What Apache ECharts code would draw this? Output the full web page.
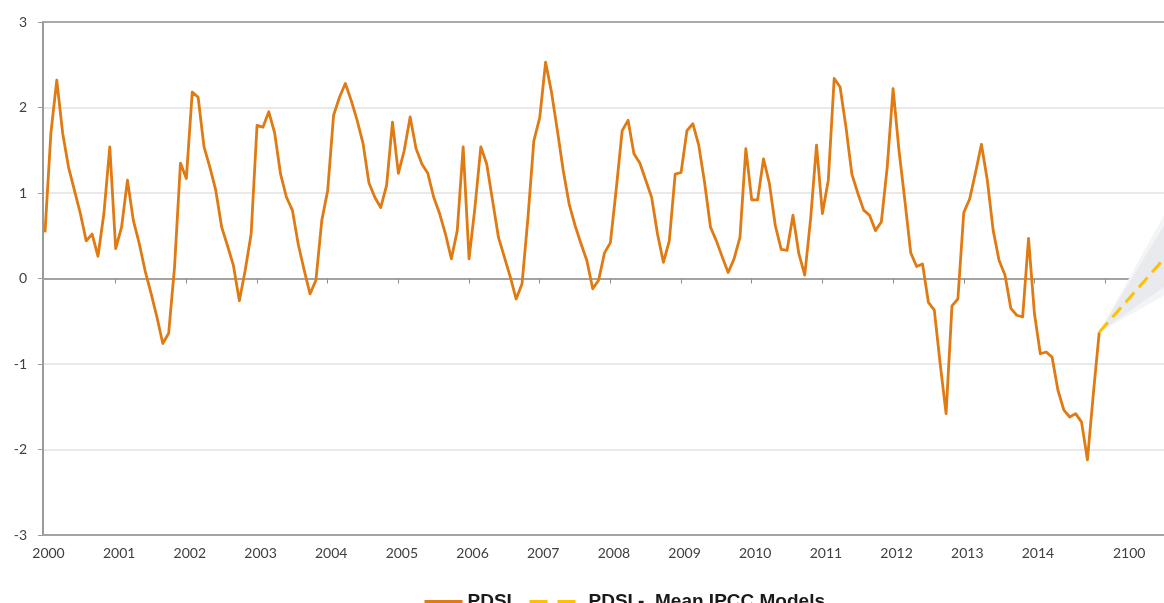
<!DOCTYPE html>
<html><head><meta charset="utf-8">
<script src="https://cdn.jsdelivr.net/npm/echarts@6/dist/echarts.min.js"></script>
<style>html,body{margin:0;padding:0;background:#fff}#c{width:1164px;height:603px}</style>
</head><body><div id="c"></div>
<script>
// Monthly PDSI, Jan 2000 .. Dec 2014 (index = month number from Jan 2000)
const pdsiValues = [
 0.54,1.70,2.32,1.70,1.30,1.03,0.76,0.44,0.52,0.26,0.76,1.54,
 0.35,0.60,1.15,0.68,0.41,0.09,-0.17,-0.45,-0.76,-0.64,0.14,1.35,
 1.17,2.18,2.12,1.54,1.30,1.03,0.60,0.38,0.15,-0.26,0.10,0.52,
 1.79,1.77,1.95,1.70,1.22,0.95,0.80,0.40,0.10,-0.18,-0.02,0.68,
 1.03,1.91,2.12,2.28,2.08,1.85,1.58,1.12,0.95,0.83,1.09,1.83,
 1.23,1.50,1.89,1.52,1.34,1.23,0.95,0.76,0.52,0.23,0.56,1.54,
 0.23,0.83,1.54,1.34,0.91,0.48,0.25,0.02,-0.24,-0.06,0.71,1.61,
 1.88,2.53,2.18,1.73,1.26,0.87,0.62,0.41,0.21,-0.12,-0.02,0.30,
 0.42,1.05,1.73,1.85,1.46,1.35,1.15,0.95,0.52,0.19,0.44,1.22,
 1.24,1.73,1.81,1.56,1.12,0.60,0.44,0.25,0.07,0.23,0.48,1.52,
 0.92,0.92,1.40,1.11,0.62,0.34,0.33,0.74,0.29,0.04,0.70,1.56,
 0.76,1.15,2.34,2.24,1.77,1.22,1.00,0.80,0.74,0.56,0.66,1.30,
 2.22,1.50,0.91,0.30,0.14,0.17,-0.28,-0.37,-1.00,-1.58,-0.32,-0.24,
 0.77,0.93,1.24,1.57,1.15,0.56,0.21,0.04,-0.35,-0.43,-0.45,0.47,
 -0.41,-0.88,-0.86,-0.92,-1.31,-1.54,-1.62,-1.58,-1.68,-2.12,-1.35,-0.63
];
const yearLabels = ['2000','2001','2002','2003','2004','2005','2006','2007','2008','2009','2010','2011','2012','2013','2014','2100'];
const yearLabelMonths = [0,12,24,36,48,60,72,84,96,108,120,132,144,156,168,183.5];
const yearTickMonths = [12,24,36,48,60,72,84,96,108,120,132,144,156,168,180];
// Mean IPCC model projection (dashed) and its spread band
const projMonths = [179, 190];
const projValues = [-0.63, 0.23];
const bandInnerLow = [-0.63, -0.10];
const bandInnerHigh = [-0.63, 0.62];
const bandOuterLow = [-0.63, -0.20];
const bandOuterHigh = [-0.63, 0.74];
const yTicks = [-3,-2,-1,0,1,2,3];

const pdsiData = pdsiValues.map((v,i)=>[i,v]);
const projData = projMonths.map((m,i)=>[m,projValues[i]]);

function bandSeries(low, high, fill, z){
  return {
    type:'custom', silent:true, z:z, clip:true,
    data:[[projMonths[0], low[0]]],
    renderItem:function(params, api){
      const pts=[];
      for(let i=0;i<projMonths.length;i++) pts.push(api.coord([projMonths[i], high[i]]));
      for(let i=projMonths.length-1;i>=0;i--) pts.push(api.coord([projMonths[i], low[i]]));
      return {type:'polygon', shape:{points:pts}, style:{fill:fill}};
    }
  };
}

const labelFont = 'Lato, "Liberation Sans", sans-serif';
const legendText = {fontFamily:'"Liberation Sans", Arial, sans-serif', fontWeight:'bold', fontSize:19, color:'#1a1a1a'};
const chart = echarts.init(document.getElementById('c'), null, {renderer:'canvas'});
chart.setOption({
  animation:false,
  backgroundColor:'#ffffff',
  grid:{left:43, right:0, top:22, bottom:68},
  legend:[
    {data:['PDSI'], left:418, top:587, itemWidth:38, itemHeight:14,
     itemStyle:{opacity:0}, lineStyle:{width:3},
     textStyle:legendText},
    {data:['PDSI -  Mean IPCC Models'], left:523, top:587, itemWidth:46, itemHeight:14,
     itemStyle:{opacity:0}, lineStyle:{type:[18,10], width:3},
     textStyle:Object.assign({padding:[0,0,0,8]}, legendText)}
  ],
  xAxis:[
    {type:'value', min:-0.34, max:190, position:'bottom',
     axisLine:{onZero:false, show:true, lineStyle:{color:'#a3a3a3', width:2}},
     axisTick:{show:false},
     splitLine:{show:false},
     axisLabel:{customValues:yearLabelMonths, margin:11, padding:[0,0,0,7],
       fontFamily:labelFont, fontSize:14, color:'#404040',
       formatter:function(v){const i=yearLabelMonths.indexOf(v); const t=i>=0?yearLabels[i]:''; return t==='2100'?'{up|'+t+'}':t;},
       rich:{up:{fontFamily:labelFont, fontSize:14, color:'#404040', padding:[0,0,5,0]}}}
    },
    {type:'value', min:-0.34, max:190, position:'top',
     axisLine:{onZero:true, show:true, lineStyle:{color:'#a3a3a3', width:2}},
     axisTick:{show:true, inside:true, length:5, customValues:yearTickMonths, lineStyle:{color:'#8c8c8c', width:1}},
     axisLabel:{show:false},
     splitLine:{show:false}
    }
  ],
  yAxis:{type:'value', min:-3, max:3, interval:1,
    axisLine:{show:true, onZero:false, lineStyle:{color:'#9a9a9a', width:2}},
    axisTick:{show:true, length:5, lineStyle:{color:'#9a9a9a', width:1}},
    axisLabel:{margin:16, fontFamily:labelFont, fontSize:14, color:'#404040',
      formatter:function(v){return yTicks.indexOf(v)>=0?String(v):'';}},
    splitLine:{show:true, lineStyle:{color:['#a3a3a3','#e2e2e2','#e2e2e2','#a3a3a3','#e2e2e2','#e2e2e2','#8f8f8f'], width:1.6}}
  },
  series:[
    bandSeries(bandOuterLow, bandOuterHigh, '#f3f4f6', 3),
    bandSeries(bandInnerLow, bandInnerHigh, '#e8eaee', 4),
    {name:'PDSI', type:'line', data:pdsiData, showSymbol:false, symbol:'none', z:6,
     lineStyle:{color:'#E07A12', width:2.8, join:'round'}, itemStyle:{color:'#E07A12'}},
    {name:'PDSI -  Mean IPCC Models', type:'line', data:projData, showSymbol:false, symbol:'none', z:7,
     lineStyle:{color:'#FFC000', width:3, type:[13,7]}, itemStyle:{color:'#FFC000'}}
  ]
});
</script>
</body></html>
